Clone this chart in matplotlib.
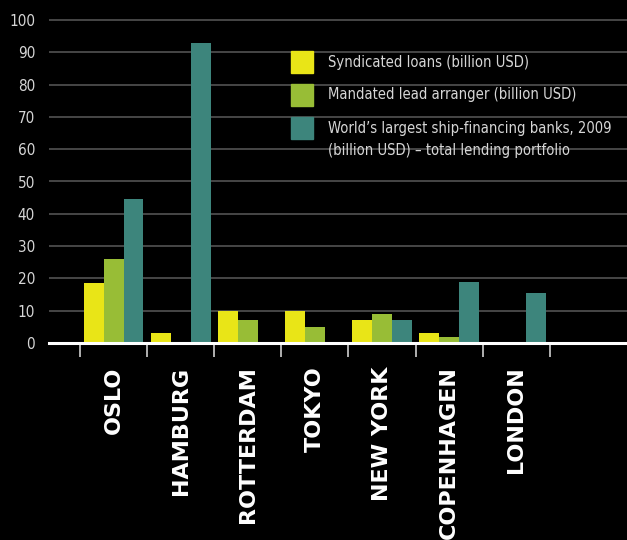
"""Ship-finance centres: syndicated loans, MLA volume and bank lending portfolios."""
import matplotlib.pyplot as plt
import numpy as np
from matplotlib.patches import Rectangle
from matplotlib.font_manager import FontProperties

cities = ["OSLO", "HAMBURG", "ROTTERDAM", "TOKYO", "NEW YORK", "COPENHAGEN", "LONDON"]
syndicated = [18.5, 3, 10, 10, 7, 3, 0]
mandated = [26, 0, 7, 5, 9, 2, 0]
portfolio = [44.5, 93, 0, 0, 7, 19, 15.5]

series_labels = [
    ["Syndicated loans (billion USD)"],
    ["Mandated lead arranger (billion USD)"],
    ["World\u2019s largest ship-financing banks, 2009",
     "(billion USD) \u2013 total lending portfolio"],
]

YELLOW = "#e9e517"
GREEN = "#98bd36"
TEAL = "#3d857c"
TEXT = "#d6d6d6"
W, H = 627, 540

fig = plt.figure(figsize=(W / 100, H / 100), dpi=100, facecolor="black")
ymax = 100.4
ax = fig.add_axes([49 / W, 1 - 343 / H, 1 - 49 / W, 3.23 * ymax / H])
ax.set_facecolor("black")

x = np.arange(len(cities))
w = 0.297
ax.bar(x - w, syndicated, w, color=YELLOW, zorder=2)
ax.bar(x, mandated, w, color=GREEN, zorder=2)
ax.bar(x + w, portfolio, w, color=TEAL, zorder=2)

ax.set_ylim(0, ymax)
ax.set_xlim(-0.962, 7.65)
ax.set_yticks(range(0, 101, 10))
ax.yaxis.grid(True, color="#5a5a5a", lw=1.1, zorder=0)
ax.set_axisbelow(True)
ax.tick_params(axis="y", length=0, pad=10, labelcolor=TEXT)
tick_font = FontProperties(family="DejaVu Sans", stretch="condensed", size=11)
for lab in ax.get_yticklabels():
    lab.set_fontproperties(tick_font)

# category boundaries get the ticks, names sit on the centres
ax.set_xticks(np.arange(-0.5, len(cities), 1.0))
ax.set_xticklabels([])
ax.tick_params(axis="x", which="major", length=10, width=1.2, color="#cfcfcf")
ax.set_xticks(x, minor=True)
ax.set_xticklabels(cities, minor=True, rotation=90, va="top", ha="center",
                   fontsize=16, fontweight="bold", color="white")
ax.tick_params(axis="x", which="minor", length=0, pad=17)

for side in ["left", "right", "top"]:
    ax.spines[side].set_visible(False)
ax.spines["bottom"].set_color("white")
ax.spines["bottom"].set_linewidth(2.2)
ax.spines["bottom"].set_zorder(3)

# key: coloured squares with the first text line centred on each square
leg_font = FontProperties(family="DejaVu Sans", stretch="condensed", size=10.6)
top, step, box, line_gap = 51, 33, 22, 22
for i, (color, lines) in enumerate(zip([YELLOW, GREEN, TEAL], series_labels)):
    y0 = top + i * step
    fig.add_artist(Rectangle((291 / W, 1 - (y0 + box) / H), box / W, box / H,
                             transform=fig.transFigure, color=color))
    for j, line in enumerate(lines):
        fig.text(328 / W, 1 - (y0 + box / 2 + j * line_gap) / H, line,
                 fontproperties=leg_font, color=TEXT, va="center", ha="left")

fig.savefig("out.png", dpi=100, facecolor="black")
